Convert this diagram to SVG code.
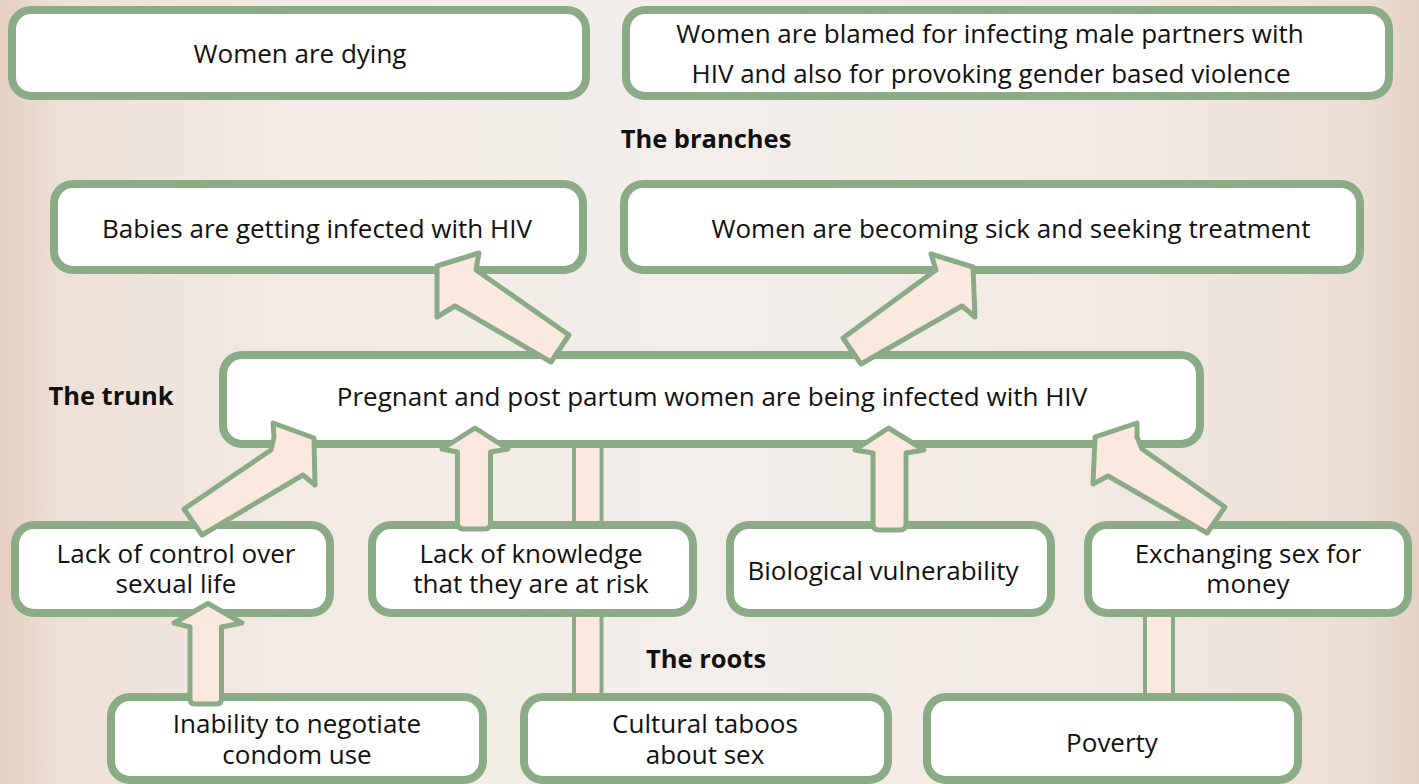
<svg xmlns="http://www.w3.org/2000/svg" width="1419" height="784" viewBox="0 0 1419 784">
<defs>
<linearGradient id="bg" x1="0" y1="0" x2="1" y2="0">
<stop offset="0" stop-color="#e4cfc1"/>
<stop offset="0.04" stop-color="#ede0d6"/>
<stop offset="0.2" stop-color="#f2eae4"/>
<stop offset="0.5" stop-color="#f3eeea"/>
<stop offset="0.8" stop-color="#f1e9e3"/>
<stop offset="0.96" stop-color="#ebded4"/>
<stop offset="1" stop-color="#e4d1c4"/>
</linearGradient>
<style>
.box{fill:#ffffff;stroke:#8bab87;stroke-width:8}
.t{font-family:"Open Sans","Noto Sans",sans-serif;font-size:26px;fill:#111111;text-anchor:middle}
.b{font-family:"Open Sans","Noto Sans",sans-serif;font-size:25.5px;font-weight:bold;fill:#111111;text-anchor:middle}
.arr{fill:#fbe8df;stroke:#8bab87;stroke-width:5;stroke-linejoin:round}
.barfill{fill:#fbe8df}
.barline{stroke:#8bab87;stroke-width:4;fill:none}
</style>
</defs>
<rect x="0" y="0" width="1419" height="784" fill="url(#bg)"/>

<text class="b" x="706" y="148">The branches</text>
<text class="b" x="111" y="405">The trunk</text>
<text class="b" x="706" y="668">The roots</text>

<g id="node-dying">
<rect class="box" x="12" y="10" width="574" height="86" rx="19"/>
<text class="t" x="300" y="63">Women are dying</text>
</g>
<g id="node-blamed">
<rect class="box" x="626" y="10" width="763" height="86" rx="19"/>
<text class="t" x="990" y="43">Women are blamed for infecting male partners with</text>
<text class="t" x="991" y="83">HIV and also for provoking gender based violence</text>
</g>
<g id="node-babies">
<rect class="box" x="54" y="184" width="529" height="86" rx="19"/>
<text class="t" x="317" y="238">Babies are getting infected with HIV</text>
</g>
<g id="node-sick">
<rect class="box" x="624" y="184" width="736" height="86" rx="19"/>
<text class="t" x="1011" y="238">Women are becoming sick and seeking treatment</text>
</g>
<g id="node-trunk">
<rect class="box" x="223" y="355" width="977" height="89" rx="19"/>
<text class="t" x="712" y="406">Pregnant and post partum women are being infected with HIV</text>
</g>
<g id="node-control">
<rect class="box" x="15" y="525" width="315" height="88" rx="19"/>
<text class="t" x="176" y="563">Lack of control over</text>
<text class="t" x="176" y="593">sexual life</text>
</g>
<g id="node-knowledge">
<rect class="box" x="372" y="525" width="321" height="88" rx="19"/>
<text class="t" x="531" y="563">Lack of knowledge</text>
<text class="t" x="531" y="593">that they are at risk</text>
</g>
<g id="node-biological">
<rect class="box" x="730" y="525" width="321" height="88" rx="19"/>
<text class="t" x="883" y="580">Biological vulnerability</text>
</g>
<g id="node-exchanging">
<rect class="box" x="1088" y="525" width="320" height="88" rx="19"/>
<text class="t" x="1248" y="563">Exchanging sex for</text>
<text class="t" x="1248" y="593">money</text>
</g>
<g id="node-inability">
<rect class="box" x="111" y="697" width="372" height="83" rx="19"/>
<text class="t" x="297" y="733">Inability to negotiate</text>
<text class="t" x="297" y="764">condom use</text>
</g>
<g id="node-taboos">
<rect class="box" x="524" y="697" width="364" height="83" rx="19"/>
<text class="t" x="705" y="733">Cultural taboos</text>
<text class="t" x="705" y="764">about sex</text>
</g>
<g id="node-poverty">
<rect class="box" x="927" y="697" width="371" height="83" rx="19"/>
<text class="t" x="1112" y="752">Poverty</text>
</g>

<g id="connectors">
<rect class="barfill" x="574" y="448" width="27.5" height="73"/>
<rect class="barfill" x="574" y="617" width="27.5" height="76"/>
<path class="barline" d="M574,448 V521 M601.5,448 V521 M574,617 V693 M601.5,617 V693"/>
<rect class="barfill" x="1145" y="617" width="28" height="76"/>
<path class="barline" d="M1145,617 V693 M1173,617 V693"/>
<path class="arr" d="M437,266 L479,253 L476,270 L569,335 L551,362 L455,306 L437,317 Z"/>
<path class="arr" d="M931,254 L973,267 L975,317 L962,306 L861,364 L843,338 L936,270 Z"/>
<path class="arr" d="M273,423 L314,438 L315,485 L303,475 L202,535 L184,509 L271,450 L274,437 Z"/>
<path class="arr" d="M1137,423 L1095,437 L1093,484 L1108,476 L1207,533 L1225,507 L1142,449 L1137,437 Z"/>
<path class="arr" d="M208,603.5 L242,623 L221.5,627 L221.5,699 Q221.5,704 216.5,704 L195,704 Q190,704 190,699 L190,627 L174,623 Z"/>
<path class="arr" d="M475,428 L508,449 L490.5,452 L490.5,523 Q490.5,529 484.5,529 L463.5,529 Q457.5,529 457.5,523 L457.5,452 L442,449 Z"/>
<path class="arr" d="M888.5,428 L924,450 L906,453 L906,524 Q906,530 900,530 L879,530 Q873,530 873,524 L873,453 L855,450 Z"/>
</g>
</svg>
